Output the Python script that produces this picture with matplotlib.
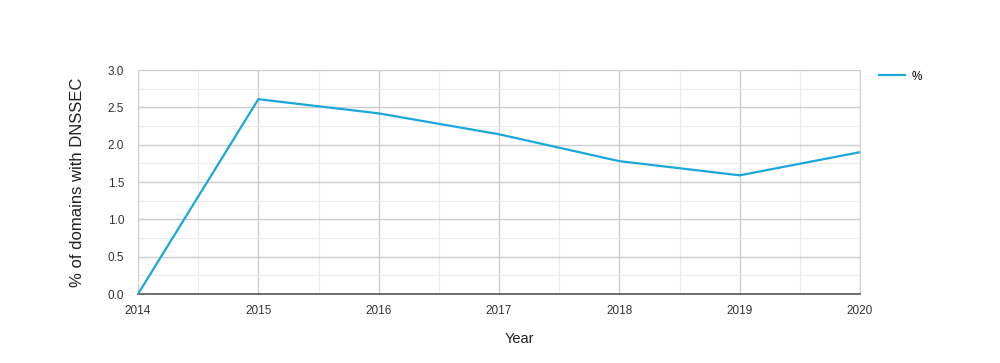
import matplotlib
matplotlib.use("Agg")
import matplotlib.pyplot as plt
from matplotlib.ticker import MultipleLocator, FormatStrFormatter

plt.rcParams["font.family"] = ["Liberation Sans", "DejaVu Sans"]

years = [2014, 2015, 2016, 2017, 2018, 2019, 2020]
pct_dnssec = [0.0, 2.61, 2.42, 2.14, 1.78, 1.59, 1.90]

LINE_COLOR = "#1aa7dc"

fig = plt.figure(figsize=(10, 3.63), dpi=100)
ax = fig.add_axes([0.138, 0.19, 0.722, 0.617])

ax.plot(years, pct_dnssec, color=LINE_COLOR, linewidth=1.6, label="%", zorder=5)

ax.set_xlim(2014, 2020)
ax.set_ylim(0, 3.0)
ax.xaxis.set_major_locator(MultipleLocator(1))
ax.xaxis.set_minor_locator(MultipleLocator(0.5))
ax.yaxis.set_major_locator(MultipleLocator(0.5))
ax.yaxis.set_minor_locator(MultipleLocator(0.25))
ax.yaxis.set_major_formatter(FormatStrFormatter("%.1f"))

ax.grid(which="major", color="#cccccc", linewidth=1.0)
ax.grid(which="minor", color="#ececec", linewidth=0.8)
ax.set_axisbelow(True)

for side in ("left", "right", "top"):
    ax.spines[side].set_color("#d0d0d0")
ax.spines["top"].set_visible(False)
ax.spines["bottom"].set_color("#555555")
ax.spines["bottom"].set_linewidth(1.2)

ax.tick_params(which="both", length=0, labelsize=8.5, colors="#333333")
ax.tick_params(axis="x", pad=8)
ax.tick_params(axis="y", pad=10)

ax.set_ylabel("% of domains with DNSSEC", fontsize=12, color="#222222", labelpad=16)
fig.text(0.519, 0.065, "Year", fontsize=10.5, color="#222222", ha="center", va="center")

fig.legend(loc="upper left", bbox_to_anchor=(0.868, 0.835), frameon=False,
           fontsize=8.5, handlelength=2.2, handletextpad=0.6)

fig.savefig("out.png", dpi=100)
